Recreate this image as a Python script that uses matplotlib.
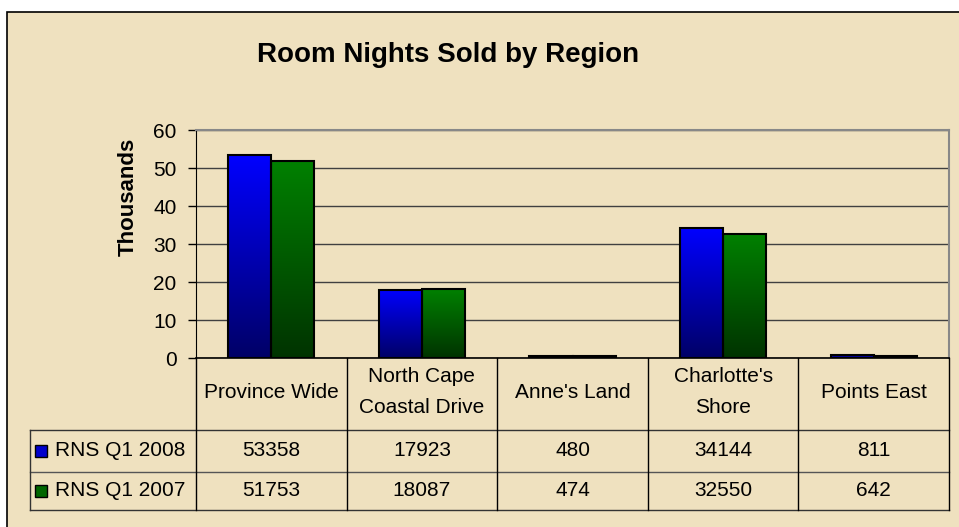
import numpy as np
import matplotlib
matplotlib.use("Agg")
import matplotlib.pyplot as plt
from matplotlib.colors import LinearSegmentedColormap
from matplotlib.patches import Rectangle
from matplotlib.lines import Line2D

plt.rcParams['font.family'] = ['Liberation Sans', 'DejaVu Sans']

# data
regions = ["Province Wide", "North Cape\nCoastal Drive", "Anne's Land",
           "Charlotte's\nShore", "Points East"]
series_names = ["RNS Q1 2008", "RNS Q1 2007"]
rns_2008 = [53358, 17923, 480, 34144, 811]
rns_2007 = [51753, 18087, 474, 32550, 642]
yticks = [0, 10, 20, 30, 40, 50, 60]

BG = "#EFE1BF"
W, H = 959, 527

fig = plt.figure(figsize=(9.59, 5.27), dpi=100)
fig.patch.set_facecolor("white")


def fx(xp):
    return xp / W


def fy(yp):
    return 1 - yp / H


# parchment-ish frame behind everything
frame = Rectangle((fx(7), fy(528)), (962 - 7) / W, (528 - 12) / H,
                  transform=fig.transFigure, facecolor=BG,
                  edgecolor="black", linewidth=1.2, zorder=-10)
fig.patches.append(frame)

left, right, top, bottom = 196, 949, 130, 358
ax = fig.add_axes([fx(left), fy(bottom), (right - left) / W, (bottom - top) / H])
ax.set_facecolor("none")

x = np.arange(len(regions))
bw = 0.286
cmaps = [LinearSegmentedColormap.from_list("b", ["#000066", "#0000FF"]),
         LinearSegmentedColormap.from_list("g", ["#003300", "#008000"])]
grad = np.linspace(0, 1, 256).reshape(-1, 1)

for k, vals in enumerate([rns_2008, rns_2007]):
    v = np.array(vals) / 1000.0
    offs = -bw / 2 if k == 0 else bw / 2
    bars = ax.bar(x + offs, v, width=bw, facecolor="none",
                  edgecolor="black", linewidth=1.5, zorder=3)
    for b in bars:
        x0, y0 = b.get_x(), b.get_y()
        im = ax.imshow(grad, cmap=cmaps[k], origin="lower", aspect="auto",
                       extent=[x0, x0 + b.get_width(), y0, y0 + b.get_height()],
                       zorder=2)
        im.set_clip_path(b)

ax.set_xlim(-0.5, len(regions) - 0.5)
ax.set_ylim(0, 60)
ax.set_yticks(yticks)
ax.set_xticks([])
ax.tick_params(axis="y", length=6, width=1, labelsize=15, pad=8, colors="black")
ax.yaxis.grid(True, color="#404040", linewidth=1)
ax.set_axisbelow(True)
for s in ["top", "right"]:
    ax.spines[s].set_color("#888888")
    ax.spines[s].set_linewidth(1.5)
ax.spines["left"].set_color("black")
ax.spines["bottom"].set_color("black")
ax.spines["bottom"].set_linewidth(1.2)

fig.text(fx(128), fy(197), "Thousands", rotation=90, ha="center",
         va="center", fontsize=16, fontweight="bold")
fig.text(fx(448), fy(55), "Room Nights Sold by Region", ha="center",
         va="center", fontsize=20, fontweight="bold")

# data table below the axis
col_edges = [left + i * (right - left) / len(regions) for i in range(len(regions) + 1)]
leg_left = 30


def hline(y, x0, x1, c="black", lw=1.0):
    fig.lines.append(Line2D([fx(x0), fx(x1)], [fy(y), fy(y)], transform=fig.transFigure,
                            color=c, linewidth=lw))


def vline(xp, y0, y1, c="black", lw=1.0):
    fig.lines.append(Line2D([fx(xp), fx(xp)], [fy(y0), fy(y1)], transform=fig.transFigure,
                            color=c, linewidth=lw))


hline(430, leg_left, right, "#333333")
hline(472, leg_left, right, "#555555")
hline(510, leg_left, right, "#333333")
for ce in col_edges:
    vline(ce, 358, 510)
vline(leg_left, 430, 510, "#333333")

for i, name in enumerate(regions):
    cx = (col_edges[i] + col_edges[i + 1]) / 2
    fig.text(fx(cx), fy(392), name, ha="center", va="center", fontsize=15,
             linespacing=1.75)
    fig.text(fx(cx), fy(451), str(rns_2008[i]), ha="center", va="center", fontsize=15)
    fig.text(fx(cx), fy(491), str(rns_2007[i]), ha="center", va="center", fontsize=15)

key_cols = ["#0000CC", "#006600"]
for j, (name, yc) in enumerate(zip(series_names, [451, 491])):
    fig.patches.append(Rectangle((fx(35), fy(yc + 6)), 12 / W, 12 / H,
                                 transform=fig.transFigure, facecolor=key_cols[j],
                                 edgecolor="black", linewidth=1))
    fig.text(fx(55), fy(yc), name, ha="left", va="center", fontsize=15)

fig.savefig("out.png", dpi=100, facecolor=fig.get_facecolor())
